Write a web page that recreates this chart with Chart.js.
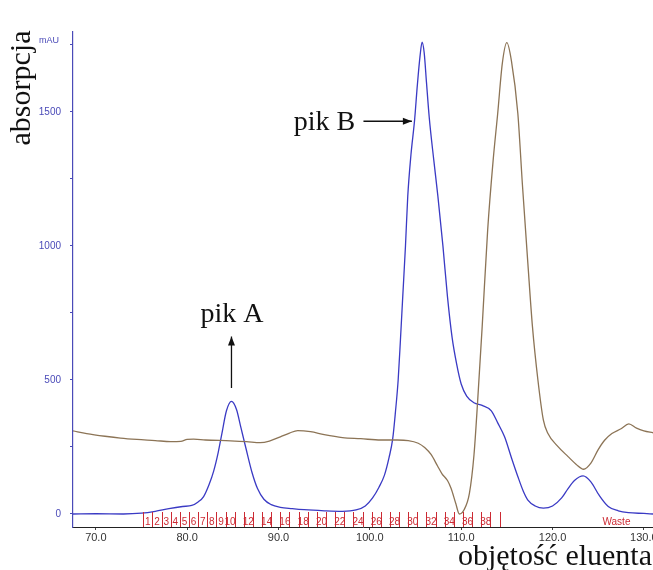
<!DOCTYPE html>
<html>
<head>
<meta charset="utf-8">
<script src="https://cdn.jsdelivr.net/npm/chart.js@4"></script>
<style>
  body { margin: 0; background: #fff; }
</style>
</head>
<body>
<canvas id="chromatogram" width="653" height="570"></canvas>
<script>
// blue trace (absorbance, mAU) vs eluent volume (mL)
let blueVolume = [67.5, 70, 73, 75, 76.5, 78, 79.5, 80.5, 81.2, 81.8, 82.4, 82.9, 83.4, 83.8, 84.3, 84.85, 85.4, 85.9, 86.4, 87.1, 87.7, 88.4, 89.2, 90.2, 91.5, 92.8, 95, 97, 98.5, 99.5, 100.3, 101, 101.6, 102.1, 102.5, 102.8, 103.1, 103.35, 103.6, 103.9, 104.15, 104.5, 104.9, 105.2, 105.5, 105.72, 105.95, 106.2, 106.5, 107, 107.45, 108, 108.5, 109, 109.5, 110, 110.6, 111.4, 112.3, 113.3, 114, 114.75, 115.5, 116.2, 116.8, 117.3, 118.1, 119, 120, 121, 121.7, 122.4, 123.35, 124.2, 125.1, 126.1, 127.2, 128.3, 130, 131];
let blueAbsorbance = [0, 1, 0, 3, 10, 20, 28, 32, 45, 65, 110, 160, 230, 300, 385, 420, 390, 320, 250, 155, 95, 55, 35, 25, 20, 16, 12, 10, 15, 30, 60, 100, 145, 210, 280, 380, 500, 650, 810, 1000, 1185, 1340, 1470, 1600, 1710, 1760, 1720, 1610, 1480, 1320, 1185, 1000, 810, 660, 560, 485, 440, 415, 405, 385, 340, 288, 210, 140, 85, 52, 30, 22, 30, 60, 95, 125, 142, 120, 70, 28, 12, 5, 2, 0];

// brown trace
let brownVolume = [67.5, 69, 71, 72.7, 74.5, 76.5, 78.2, 79.3, 80, 80.7, 82, 84.75, 86.5, 88, 89, 90.2, 91.2, 92.1, 93.5, 95, 97, 99, 101.2, 103, 104.2, 105.3, 106, 106.7, 107.4, 107.9, 108.5, 108.9, 109.4, 109.8, 110.3, 110.9, 111.4, 111.8, 112.3, 112.9, 113.5, 114, 114.5, 115, 115.5, 116.2, 116.7, 117.3, 117.8, 118.4, 119, 119.5, 120.5, 121.7, 122.6, 123.4, 124.2, 125, 125.7, 126.5, 127.5, 128.35, 129.2, 130, 131];
let brownAbsorbance = [310, 300, 290, 283, 278, 274, 270, 271, 278, 279, 276, 273, 270, 266, 272, 288, 302, 311, 307, 296, 285, 281, 276, 276, 274, 264, 248, 222, 180, 150, 125, 95, 40, 0, 15, 77, 220, 420, 700, 1060, 1320, 1495, 1680, 1758, 1690, 1495, 1230, 935, 700, 500, 350, 300, 255, 214, 185, 167, 190, 240, 275, 300, 318, 336, 320, 310, 303];

// collected fractions: 1 mL each starting at 75.2 mL
let fractionStart = 75.2;
let fractionWidth = 1.0;
let fractionLabels = ["1","2","3","4","5","6","7","8","9","10","","12","","14","","16","","18","","20","","22","","24","","26","","28","","30","","32","","34","","36","","38",""];

const blue = "#3a3ac4";
const brown = "#8c7456";
const red = "#cc2a33";
const axisBlue = "#4a4ab8";
const serif = "'Liberation Serif', 'Times New Roman', serif";

function toPoints(xs, ys) {
    return xs.map((x, i) => ({x: x, y: ys[i]}));
}

function arrow(ctx, x1, y1, x2, y2) {
    let a = Math.atan2(y2 - y1, x2 - x1);
    ctx.beginPath();
    ctx.moveTo(x1, y1);
    ctx.lineTo(x2, y2);
    ctx.stroke();
    ctx.beginPath();
    ctx.moveTo(x2, y2);
    ctx.lineTo(x2 - 9 * Math.cos(a) + 3.5 * Math.sin(a), y2 - 9 * Math.sin(a) - 3.5 * Math.cos(a));
    ctx.lineTo(x2 - 9 * Math.cos(a) - 3.5 * Math.sin(a), y2 - 9 * Math.sin(a) + 3.5 * Math.cos(a));
    ctx.closePath();
    ctx.fill();
}

const extras = {
    id: "extras",
    afterDraw(chart) {
        let ctx = chart.ctx;
        let x = chart.scales.x, y = chart.scales.y;
        let bottom = chart.chartArea.bottom;
        ctx.save();

        // fraction markers
        ctx.strokeStyle = red;
        ctx.fillStyle = red;
        ctx.lineWidth = 1;
        ctx.font = "10px Arial, 'Liberation Sans', sans-serif";
        ctx.textAlign = "center";
        ctx.textBaseline = "middle";
        for (let i = 0; i <= fractionLabels.length; i++) {
            let px = Math.round(x.getPixelForValue(fractionStart + i * fractionWidth)) + 0.5;
            ctx.beginPath();
            ctx.moveTo(px, bottom - 15);
            ctx.lineTo(px, bottom);
            ctx.stroke();
        }
        fractionLabels.forEach((lab, i) => {
            if (!lab) return;
            ctx.fillText(lab, x.getPixelForValue(fractionStart + (i + 0.5) * fractionWidth), bottom - 5);
        });
        ctx.fillText("Waste", x.getPixelForValue(127), bottom - 5);

        // unit label
        ctx.fillStyle = axisBlue;
        ctx.font = "9px Arial, 'Liberation Sans', sans-serif";
        ctx.textAlign = "right";
        ctx.fillText("mAU", 59, 41);

        // annotations
        ctx.fillStyle = "#111";
        ctx.strokeStyle = "#111";
        ctx.lineWidth = 1.3;
        ctx.font = "28px " + serif;
        ctx.textAlign = "center";
        ctx.textBaseline = "alphabetic";
        ctx.fillText("pik A", x.getPixelForValue(84.9), y.getPixelForValue(716));
        arrow(ctx, x.getPixelForValue(84.85), y.getPixelForValue(470), x.getPixelForValue(84.85), y.getPixelForValue(662));
        ctx.textAlign = "right";
        ctx.fillText("pik B", x.getPixelForValue(98.4), y.getPixelForValue(1432));
        arrow(ctx, x.getPixelForValue(99.3), y.getPixelForValue(1465), x.getPixelForValue(104.6), y.getPixelForValue(1465));

        // axis titles
        ctx.font = "30px " + serif;
        ctx.textAlign = "right";
        ctx.fillText("objętość eluenta", 652, 565);
        ctx.translate(30, 88);
        ctx.rotate(-Math.PI / 2);
        ctx.textAlign = "center";
        ctx.fillText("absorpcja", 0, 0);
        ctx.restore();
    }
};

new Chart("chromatogram", {
    type: "line",
    data: {
        datasets: [{
            data: toPoints(brownVolume, brownAbsorbance),
            borderColor: brown,
            borderWidth: 1.3,
            pointRadius: 0,
            cubicInterpolationMode: "monotone"
        }, {
            data: toPoints(blueVolume, blueAbsorbance),
            borderColor: blue,
            borderWidth: 1.3,
            pointRadius: 0,
            cubicInterpolationMode: "monotone"
        }]
    },
    options: {
        responsive: false,
        animation: false,
        layout: {padding: {top: 32, right: 0, left: 0, bottom: 0}},
        plugins: {legend: {display: false}, tooltip: {enabled: false}},
        scales: {
            x: {
                type: "linear",
                min: 67.5,
                max: 131,
                border: {color: "#222", width: 1},
                grid: {drawOnChartArea: false, tickLength: 3, color: "#444"},
                ticks: {
                    stepSize: 10,
                    includeBounds: false,
                    maxRotation: 0,
                    padding: 1,
                    color: "#333",
                    font: {family: "Arial, 'Liberation Sans', sans-serif", size: 11},
                    callback: v => v.toFixed(1)
                },
                afterFit(scale) {
                    scale.height = 43;
                    scale.paddingLeft = 0;
                    scale.paddingRight = 0;
                }
            },
            y: {
                min: -48.5,
                max: 1798,
                border: {color: axisBlue, width: 1.2},
                grid: {drawOnChartArea: false, tickLength: 3, color: axisBlue},
                ticks: {
                    stepSize: 250,
                    includeBounds: false,
                    padding: 9,
                    color: axisBlue,
                    font: {family: "Arial, 'Liberation Sans', sans-serif", size: 10},
                    callback: v => (v % 500 === 0 ? v : "")
                },
                afterFit(scale) {
                    scale.width = 73;
                    scale.paddingTop = 0;
                    scale.paddingBottom = 0;
                }
            }
        }
    },
    plugins: [extras]
});
</script>
</body>
</html>
